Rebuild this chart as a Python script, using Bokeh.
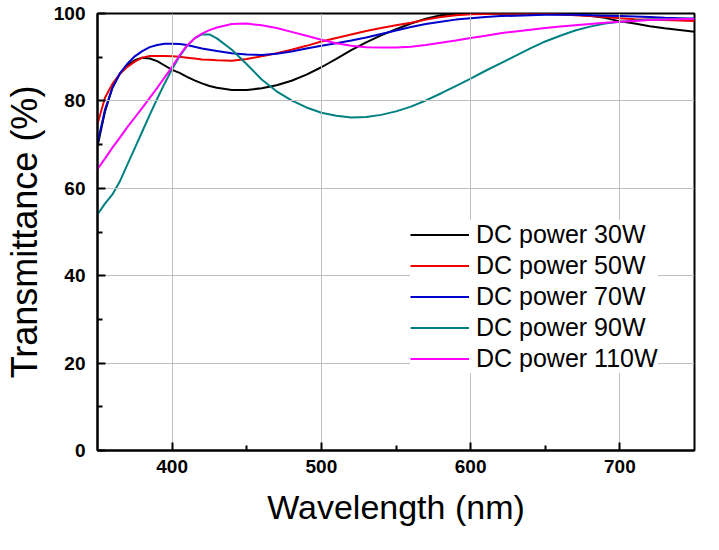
from bokeh.plotting import figure
from bokeh.models import Range1d, FixedTicker, Legend, LegendItem
from bokeh.embed import file_html
from bokeh.resources import INLINE

# Wavelength (nm), shared by all series
wavelength = [350, 355, 360, 365, 370, 375, 380, 385, 390, 395,
              400, 405, 410, 415, 420, 425, 430, 440, 450, 460,
              470, 480, 490, 500, 510, 520, 530, 540, 550, 560,
              570, 580, 590, 600, 610, 620, 630, 640, 650, 660,
              670, 680, 690, 700, 710, 720, 730, 740, 750]

t_30w = [69.6, 77.5, 83.0, 86.2, 88.2, 89.3, 89.9, 89.7, 89.1, 88.1,
         87.1, 86.4, 85.5, 84.7, 84.0, 83.4, 83.0, 82.5, 82.5, 82.9,
         83.6, 84.6, 86.0, 87.7, 89.6, 91.6, 93.4, 95.0, 96.4, 97.7,
         98.8, 99.6, 99.9, 100.0, 100.0, 100.0, 100.0, 100.0, 99.9, 99.8,
         99.7, 99.5, 99.0, 98.2, 97.7, 97.1, 96.6, 96.2, 95.8]

t_50w = [74.7, 80.7, 83.9, 86.2, 87.8, 89.0, 89.9, 90.3, 90.3, 90.3,
         90.2, 90.1, 89.9, 89.7, 89.5, 89.4, 89.3, 89.2, 89.6, 90.2,
         90.9, 91.7, 92.6, 93.6, 94.4, 95.2, 96.0, 96.7, 97.3, 97.9,
         98.6, 99.2, 99.6, 99.8, 99.9, 100.0, 100.0, 100.0, 99.9, 99.8,
         99.6, 99.4, 99.2, 98.9, 98.7, 98.6, 98.5, 98.4, 98.3]

t_70w = [70.3, 78.0, 83.0, 86.3, 88.5, 90.2, 91.4, 92.3, 92.8, 93.1,
         93.1, 93.0, 92.8, 92.4, 92.0, 91.7, 91.4, 90.9, 90.6, 90.5,
         90.8, 91.3, 92.0, 92.6, 93.2, 93.8, 94.5, 95.3, 96.1, 96.9,
         97.6, 98.1, 98.6, 98.9, 99.2, 99.4, 99.5, 99.6, 99.7, 99.7,
         99.7, 99.6, 99.5, 99.4, 99.3, 99.2, 99.0, 98.9, 98.8]

t_90w = [54.0, 56.5, 58.6, 61.6, 65.4, 69.2, 73.0, 76.8, 80.5, 84.0,
         87.3, 90.2, 92.6, 94.3, 95.2, 95.2, 94.3, 91.7, 88.4, 84.9,
         82.2, 80.1, 78.5, 77.3, 76.6, 76.2, 76.3, 76.8, 77.6, 78.7,
         80.1, 81.7, 83.4, 85.1, 86.9, 88.6, 90.3, 92.0, 93.6, 94.9,
         96.1, 97.0, 97.7, 98.1, 98.4, 98.6, 98.7, 98.8, 98.8]

t_110w = [64.4, 66.8, 69.3, 71.6, 74.0, 76.2, 78.4, 80.7, 83.0, 85.4,
          87.8, 90.4, 92.7, 94.3, 95.4, 96.2, 96.8, 97.6, 97.7, 97.3,
          96.7, 95.8, 94.9, 94.0, 93.2, 92.6, 92.3, 92.2, 92.2, 92.4,
          92.8, 93.3, 93.8, 94.4, 94.9, 95.5, 95.9, 96.3, 96.7, 97.0,
          97.3, 97.6, 97.9, 98.1, 98.3, 98.5, 98.6, 98.7, 98.8]

series_labels = ["DC power 30W", "DC power 50W", "DC power 70W",
                 "DC power 90W", "DC power 110W"]
series_values = [t_30w, t_50w, t_70w, t_90w, t_110w]
series_colors = ["#000000", "#ee0000", "#0000cc", "#008080", "#ff00ff"]

x_ticks = [400, 500, 600, 700]
x_minor = [450, 550, 650]
y_ticks = [0, 20, 40, 60, 80, 100]
y_minor = [10, 30, 50, 70, 90]

p = figure(width=703, height=534, output_backend="svg", toolbar_location=None,
           x_range=Range1d(350, 750), y_range=Range1d(0, 100),
           min_border_left=93, min_border_right=9, min_border_top=13,
           min_border_bottom=84)
p.background_fill_color = None
p.border_fill_color = "white"
p.outline_line_color = "black"
p.outline_line_width = 2

for g in p.xgrid + p.ygrid:
    g.grid_line_color = "#c0c0c0"
    g.grid_line_width = 1
    g.grid_line_alpha = 1.0
    g.level = "glyph"

items = []
for lab, vals, col in zip(series_labels, series_values, series_colors):
    r = p.line(wavelength, vals, line_color=col, line_width=2)
    items.append(LegendItem(label=lab, renderers=[r]))

for ax in (p.xaxis[0], p.yaxis[0]):
    ax.axis_line_width = 2
    ax.axis_line_color = "black"
    ax.major_tick_in = 8
    ax.major_tick_out = 0
    ax.minor_tick_in = 5
    ax.minor_tick_out = 0
    ax.major_tick_line_width = 2
    ax.minor_tick_line_width = 2
    ax.major_label_text_font = "Liberation Sans"
    ax.major_label_text_font_style = "bold"
    ax.major_label_text_font_size = "19px"
    ax.major_label_text_color = "black"
    ax.axis_label_text_font = "Liberation Sans"
    ax.axis_label_text_font_style = "normal"
    ax.axis_label_text_color = "black"

p.xaxis[0].ticker = FixedTicker(ticks=x_ticks, minor_ticks=x_minor)
p.yaxis[0].ticker = FixedTicker(ticks=y_ticks, minor_ticks=y_minor)
p.xaxis[0].axis_label = "Wavelength (nm)"
p.yaxis[0].axis_label = "Transmittance (%)"
p.xaxis[0].axis_label_text_font_size = "34px"
p.yaxis[0].axis_label_text_font_size = "36px"
p.xaxis[0].major_label_standoff = 9
p.yaxis[0].major_label_standoff = 12
p.xaxis[0].axis_label_standoff = 12
p.yaxis[0].axis_label_standoff = 6

legend = Legend(items=items, location=(313, 77))
legend.border_line_color = None
legend.background_fill_color = "white"
legend.background_fill_alpha = 1.0
legend.padding = 2
legend.spacing = 2
legend.margin = 0
legend.glyph_width = 59
legend.glyph_height = 29
legend.label_height = 29
legend.label_standoff = 7
legend.label_text_font = "Liberation Sans"
legend.label_text_font_size = "25px"
legend.label_text_color = "black"
p.add_layout(legend)

open("out.html", "w").write(file_html(p, INLINE))
